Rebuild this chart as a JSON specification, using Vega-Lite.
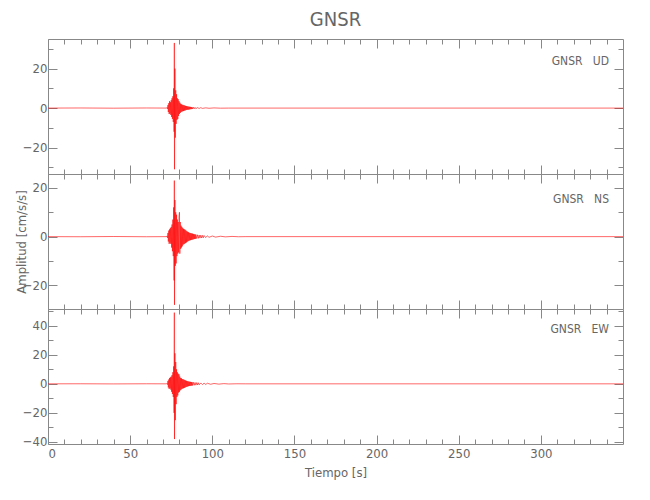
{
  "$schema": "https://vega.github.io/schema/vega-lite/v6.json",
  "padding": {"left": 14, "top": 9, "right": 5, "bottom": 5},
  "spacing": 0,
  "bounds": "flush",
  "datasets": {
    "ud": [
      {"t":0,"a":0},{"t":20,"a":0.05},{"t":40,"a":-0.05},{"t":60,"a":0.05},{"t":72.25,"a":0},
      {"t":72.5,"a":0.3},{"t":72.75,"a":-0.4},{"t":73,"a":1.5},{"t":73.25,"a":-2},{"t":73.5,"a":2.5},{"t":73.75,"a":-3},
      {"t":74,"a":3.5},{"t":74.25,"a":-2.8},{"t":74.5,"a":3},{"t":74.75,"a":-3.5},{"t":75,"a":4},{"t":75.25,"a":-4.5},
      {"t":75.5,"a":5},{"t":75.75,"a":-5.5},{"t":76,"a":6},{"t":76.25,"a":-7},{"t":76.5,"a":10},{"t":76.75,"a":-12},
      {"t":76.9,"a":33},{"t":77,"a":-31},{"t":77.25,"a":20},{"t":77.5,"a":-15},{"t":77.75,"a":9},{"t":78,"a":-8},
      {"t":78.25,"a":7},{"t":78.5,"a":-6},{"t":78.75,"a":5},{"t":79,"a":-5.5},{"t":79.25,"a":4.5},{"t":79.5,"a":-4},
      {"t":79.75,"a":3.5},{"t":80,"a":-3},{"t":80.25,"a":2.8},{"t":80.5,"a":-2.5},{"t":80.75,"a":2.2},
      {"t":81,"a":-2},{"t":81.25,"a":1.9},{"t":81.5,"a":-1.8},{"t":81.75,"a":1.7},{"t":82,"a":-1.6},{"t":82.25,"a":1.6},
      {"t":82.5,"a":-1.5},{"t":82.75,"a":1.4},{"t":83,"a":-1.3},{"t":83.25,"a":1.3},{"t":83.5,"a":-1.2},{"t":83.75,"a":1.1},
      {"t":84,"a":-1},{"t":84.25,"a":1},{"t":84.5,"a":-0.9},{"t":84.75,"a":0.9},{"t":85,"a":-0.8},{"t":85.25,"a":0.8},
      {"t":85.5,"a":-0.75},{"t":85.75,"a":0.7},{"t":86,"a":-0.7},{"t":86.25,"a":0.65},{"t":86.5,"a":-0.6},{"t":86.75,"a":0.6},
      {"t":87,"a":-0.55},{"t":87.25,"a":0.5},{"t":87.5,"a":-0.5},{"t":87.75,"a":0.45},{"t":88,"a":-0.45},{"t":88.5,"a":0.4},
      {"t":89,"a":-0.35},{"t":89.5,"a":0.35},{"t":90,"a":-0.3},{"t":91,"a":0.25},{"t":92,"a":-0.2},{"t":93,"a":0.2},
      {"t":94,"a":-0.15},{"t":96,"a":0.12},{"t":98,"a":-0.1},{"t":101,"a":0.08},{"t":105,"a":-0.05},{"t":110,"a":0},{"t":350,"a":0}
    ],
    "ns": [
      {"t":0,"a":0},{"t":20,"a":-0.05},{"t":40,"a":0.05},{"t":60,"a":-0.05},{"t":72.25,"a":0},
      {"t":72.5,"a":0.3},{"t":72.75,"a":-0.5},{"t":73,"a":1.5},{"t":73.25,"a":-2},{"t":73.5,"a":2.5},{"t":73.75,"a":-3},
      {"t":74,"a":3},{"t":74.25,"a":-2.5},{"t":74.5,"a":3.5},{"t":74.75,"a":-3},{"t":75,"a":4},{"t":75.25,"a":-4.5},
      {"t":75.5,"a":5},{"t":75.75,"a":-6},{"t":76,"a":7},{"t":76.25,"a":-8},{"t":76.5,"a":12},{"t":76.75,"a":-18},
      {"t":76.9,"a":23},{"t":77,"a":-28},{"t":77.25,"a":15},{"t":77.5,"a":-12},{"t":77.75,"a":10},{"t":78,"a":-11},
      {"t":78.25,"a":9},{"t":78.5,"a":-8},{"t":78.75,"a":7},{"t":79,"a":-7},{"t":79.25,"a":6},{"t":79.5,"a":-6.5},
      {"t":79.75,"a":8},{"t":80,"a":10},{"t":80.25,"a":-7},{"t":80.5,"a":6},{"t":80.75,"a":-5},{"t":81,"a":4.5},
      {"t":81.25,"a":-4.5},{"t":81.5,"a":4},{"t":81.75,"a":-4},
      {"t":82,"a":3.5},{"t":82.25,"a":-3.3},{"t":82.5,"a":3.2},{"t":82.75,"a":-3.1},{"t":83,"a":3},{"t":83.25,"a":-2.9},
      {"t":83.5,"a":2.8},{"t":83.75,"a":-2.6},{"t":84,"a":2.5},{"t":84.25,"a":-2.4},{"t":84.5,"a":2.2},{"t":84.75,"a":-2.1},
      {"t":85,"a":2},{"t":85.25,"a":-1.9},{"t":85.5,"a":1.8},{"t":85.75,"a":-1.7},{"t":86,"a":1.6},{"t":86.25,"a":-1.55},
      {"t":86.5,"a":1.5},{"t":86.75,"a":-1.45},{"t":87,"a":1.4},{"t":87.25,"a":-1.35},{"t":87.5,"a":1.3},{"t":87.75,"a":-1.25},
      {"t":88,"a":1.2},{"t":88.25,"a":-1.15},{"t":88.5,"a":1.1},{"t":88.75,"a":-1.05},{"t":89,"a":1},{"t":89.25,"a":-0.95},
      {"t":89.5,"a":0.9},{"t":89.75,"a":-0.9},{"t":90,"a":0.85},{"t":90.5,"a":-0.8},{"t":91,"a":0.75},{"t":91.5,"a":-0.7},
      {"t":92,"a":0.65},{"t":92.5,"a":-0.6},{"t":93,"a":0.6},{"t":93.5,"a":-0.55},{"t":94,"a":0.5},{"t":94.5,"a":-0.5},
      {"t":95,"a":0.45},{"t":96,"a":-0.4},{"t":97,"a":0.35},{"t":98,"a":-0.3},{"t":100,"a":0.25},{"t":102,"a":-0.2},
      {"t":105,"a":0.15},{"t":108,"a":-0.1},{"t":112,"a":0.08},{"t":116,"a":-0.05},{"t":120,"a":0},{"t":350,"a":0}
    ],
    "ew": [
      {"t":0,"a":0},{"t":20,"a":0.05},{"t":40,"a":-0.05},{"t":60,"a":0.05},{"t":72.25,"a":0},
      {"t":72.5,"a":0.3},{"t":72.75,"a":-0.5},{"t":73,"a":2},{"t":73.25,"a":-2.5},{"t":73.5,"a":3},{"t":73.75,"a":-3.5},
      {"t":74,"a":4},{"t":74.25,"a":-3},{"t":74.5,"a":4.5},{"t":74.75,"a":-4},{"t":75,"a":5},{"t":75.25,"a":-5.5},
      {"t":75.5,"a":6},{"t":75.75,"a":-7},{"t":76,"a":8},{"t":76.25,"a":-9},{"t":76.5,"a":12},{"t":76.75,"a":-20},
      {"t":76.9,"a":49},{"t":77,"a":-38},{"t":77.25,"a":21},{"t":77.5,"a":-25},{"t":77.75,"a":15},{"t":78,"a":-14},
      {"t":78.25,"a":10},{"t":78.5,"a":-9},{"t":78.75,"a":8},{"t":79,"a":-8},{"t":79.25,"a":7},{"t":79.5,"a":-6},
      {"t":79.75,"a":6.5},{"t":80,"a":-5.5},{"t":80.25,"a":5},{"t":80.5,"a":-4.5},{"t":80.75,"a":4},
      {"t":81,"a":-4},{"t":81.25,"a":3.8},{"t":81.5,"a":-3.5},{"t":81.75,"a":3.3},{"t":82,"a":-3.2},{"t":82.25,"a":3.1},
      {"t":82.5,"a":-3},{"t":82.75,"a":2.9},{"t":83,"a":-2.8},{"t":83.25,"a":2.6},{"t":83.5,"a":-2.5},{"t":83.75,"a":2.3},
      {"t":84,"a":-2.2},{"t":84.25,"a":2.1},{"t":84.5,"a":-2},{"t":84.75,"a":1.9},{"t":85,"a":-1.8},{"t":85.25,"a":1.7},
      {"t":85.5,"a":-1.6},{"t":85.75,"a":1.55},{"t":86,"a":-1.5},{"t":86.25,"a":1.45},{"t":86.5,"a":-1.4},{"t":86.75,"a":1.35},
      {"t":87,"a":-1.3},{"t":87.25,"a":1.25},{"t":87.5,"a":-1.2},{"t":87.75,"a":1.15},{"t":88,"a":-1.1},{"t":88.5,"a":1.05},
      {"t":89,"a":-1},{"t":89.5,"a":0.95},{"t":90,"a":-0.9},{"t":90.5,"a":0.85},{"t":91,"a":-0.8},{"t":91.5,"a":0.75},
      {"t":92,"a":-0.7},{"t":93,"a":0.6},{"t":94,"a":-0.55},{"t":95,"a":0.5},{"t":96,"a":-0.45},{"t":97,"a":0.4},
      {"t":99,"a":-0.3},{"t":101,"a":0.25},{"t":104,"a":-0.2},{"t":107,"a":0.15},{"t":110,"a":-0.1},{"t":115,"a":0.05},
      {"t":120,"a":0},{"t":350,"a":0}
    ]
  },
  "vconcat": [
    {
      "width": 575, "height": 135,
      "title": {"text": "GNSR", "fontSize": 20, "font": "DejaVu Sans Condensed", "fontWeight": "normal", "color": "#666", "anchor": "middle", "offset": 9},
      "resolve": {"axis": {"x": "independent", "y": "independent"}},
      "layer": [
        {
          "data": {"name": "ud"},
          "mark": {"type": "line", "color": "red", "strokeWidth": 0.7, "opacity": 0.85, "clip": true},
          "encoding": {
            "x": {"field": "t", "type": "quantitative", "scale": {"domain": [0, 350], "nice": false, "zero": false},
              "axis": {"orient": "bottom", "values": [0,10,20,30,40,50,60,70,80,90,100,110,120,130,140,150,160,170,180,190,200,210,220,230,240,250,260,270,280,290,300,310,320,330,340],
                "labels": false, "title": null,
                "tickSize": {"condition": {"test": "datum.value % 50 === 0", "value": -9}, "value": -5}}},
            "y": {"field": "a", "type": "quantitative", "scale": {"domain": [-33.4, 35], "nice": false, "zero": false},
              "axis": {"orient": "left", "values": [-30,-20,-10,0,10,20,30], "title": null,
                "labelExpr": "datum.value % 20 === 0 ? datum.label : ''", "labelPadding": 10,
                "tickSize": {"condition": {"test": "datum.value % 20 === 0", "value": -9}, "value": -5}}}
          }
        },
        {
          "data": {"name": "ud"},
          "mark": {"type": "line", "opacity": 0},
          "encoding": {
            "x": {"field": "t", "type": "quantitative",
              "axis": {"orient": "top", "values": [0,10,20,30,40,50,60,70,80,90,100,110,120,130,140,150,160,170,180,190,200,210,220,230,240,250,260,270,280,290,300,310,320,330,340],
                "labels": false, "title": null,
                "tickSize": {"condition": {"test": "datum.value % 50 === 0", "value": -9}, "value": -5}}},
            "y": {"field": "a", "type": "quantitative",
              "axis": {"orient": "right", "values": [-30,-20,-10,0,10,20,30], "labels": false, "title": null,
                "tickSize": {"condition": {"test": "datum.value % 20 === 0", "value": -9}, "value": -5}}}
          }
        },
        {
          "data": {"values": [{"label": "GNSR\u00a0\u00a0\u00a0UD"}]},
          "mark": {"type": "text", "align": "right", "baseline": "middle", "font": "DejaVu Sans Condensed", "fontSize": 12, "color": "#666"},
          "encoding": {
            "x": {"datum": 341.5, "type": "quantitative", "axis": null},
            "y": {"datum": 23.8, "type": "quantitative", "axis": null},
            "text": {"field": "label"}
          }
        }
      ]
    },
    {
      "width": 575, "height": 135,
      "resolve": {"axis": {"x": "independent", "y": "independent"}},
      "layer": [
        {
          "data": {"name": "ns"},
          "mark": {"type": "line", "color": "red", "strokeWidth": 0.7, "opacity": 0.85, "clip": true},
          "encoding": {
            "x": {"field": "t", "type": "quantitative", "scale": {"domain": [0, 350], "nice": false, "zero": false},
              "axis": {"orient": "bottom", "values": [0,10,20,30,40,50,60,70,80,90,100,110,120,130,140,150,160,170,180,190,200,210,220,230,240,250,260,270,280,290,300,310,320,330,340],
                "labels": false, "title": null,
                "tickSize": {"condition": {"test": "datum.value % 50 === 0", "value": -9}, "value": -5}}},
            "y": {"field": "a", "type": "quantitative", "scale": {"domain": [-29.7, 25.7], "nice": false, "zero": false},
              "axis": {"orient": "left", "values": [-20,-10,0,10,20], "title": "Amplitud [cm/s/s]", "titlePadding": -6,
                "labelExpr": "datum.value % 20 === 0 ? datum.label : ''", "labelPadding": 10,
                "tickSize": {"condition": {"test": "datum.value % 20 === 0", "value": -9}, "value": -5}}}
          }
        },
        {
          "data": {"name": "ns"},
          "mark": {"type": "line", "opacity": 0},
          "encoding": {
            "x": {"field": "t", "type": "quantitative",
              "axis": {"orient": "top", "values": [0,10,20,30,40,50,60,70,80,90,100,110,120,130,140,150,160,170,180,190,200,210,220,230,240,250,260,270,280,290,300,310,320,330,340],
                "labels": false, "title": null,
                "tickSize": {"condition": {"test": "datum.value % 50 === 0", "value": -9}, "value": -5}}},
            "y": {"field": "a", "type": "quantitative",
              "axis": {"orient": "right", "values": [-20,-10,0,10,20], "labels": false, "title": null,
                "tickSize": {"condition": {"test": "datum.value % 20 === 0", "value": -9}, "value": -5}}}
          }
        },
        {
          "data": {"values": [{"label": "GNSR\u00a0\u00a0\u00a0NS"}]},
          "mark": {"type": "text", "align": "right", "baseline": "middle", "font": "DejaVu Sans Condensed", "fontSize": 12, "color": "#666"},
          "encoding": {
            "x": {"datum": 341.5, "type": "quantitative", "axis": null},
            "y": {"datum": 15.5, "type": "quantitative", "axis": null},
            "text": {"field": "label"}
          }
        }
      ]
    },
    {
      "width": 575, "height": 135,
      "resolve": {"axis": {"x": "independent", "y": "independent"}},
      "layer": [
        {
          "data": {"name": "ew"},
          "mark": {"type": "line", "color": "red", "strokeWidth": 0.7, "opacity": 0.85, "clip": true},
          "encoding": {
            "x": {"field": "t", "type": "quantitative", "scale": {"domain": [0, 350], "nice": false, "zero": false},
              "axis": {"orient": "bottom", "values": [0,10,20,30,40,50,60,70,80,90,100,110,120,130,140,150,160,170,180,190,200,210,220,230,240,250,260,270,280,290,300,310,320,330,340],
                "labelExpr": "datum.value % 50 === 0 ? datum.label : ''", "labelPadding": 12,
                "title": "Tiempo [s]", "titlePadding": 6,
                "tickSize": {"condition": {"test": "datum.value % 50 === 0", "value": -9}, "value": -5}}},
            "y": {"field": "a", "type": "quantitative", "scale": {"domain": [-41.4, 51.5], "nice": false, "zero": false},
              "axis": {"orient": "left", "values": [-40,-30,-20,-10,0,10,20,30,40,50], "title": null,
                "labelExpr": "datum.value % 20 === 0 ? datum.label : ''", "labelPadding": 10,
                "tickSize": {"condition": {"test": "datum.value % 20 === 0", "value": -9}, "value": -5}}}
          }
        },
        {
          "data": {"name": "ew"},
          "mark": {"type": "line", "opacity": 0},
          "encoding": {
            "x": {"field": "t", "type": "quantitative",
              "axis": {"orient": "top", "values": [0,10,20,30,40,50,60,70,80,90,100,110,120,130,140,150,160,170,180,190,200,210,220,230,240,250,260,270,280,290,300,310,320,330,340],
                "labels": false, "title": null,
                "tickSize": {"condition": {"test": "datum.value % 50 === 0", "value": -9}, "value": -5}}},
            "y": {"field": "a", "type": "quantitative",
              "axis": {"orient": "right", "values": [-40,-30,-20,-10,0,10,20,30,40,50], "labels": false, "title": null,
                "tickSize": {"condition": {"test": "datum.value % 20 === 0", "value": -9}, "value": -5}}}
          }
        },
        {
          "data": {"values": [{"label": "GNSR\u00a0\u00a0\u00a0EW"}]},
          "mark": {"type": "text", "align": "right", "baseline": "middle", "font": "DejaVu Sans Condensed", "fontSize": 12, "color": "#666"},
          "encoding": {
            "x": {"datum": 341.5, "type": "quantitative", "axis": null},
            "y": {"datum": 37.8, "type": "quantitative", "axis": null},
            "text": {"field": "label"}
          }
        }
      ]
    }
  ],
  "config": {
    "view": {"stroke": "#888", "strokeWidth": 1},
    "axis": {"domain": false, "grid": false, "tickColor": "#888", "tickWidth": 1,
      "labelColor": "#666", "labelFont": "DejaVu Sans Condensed", "labelFontSize": 13,
      "titleColor": "#666", "titleFont": "DejaVu Sans Condensed", "titleFontWeight": "normal", "titleFontSize": 13}
  }
}
